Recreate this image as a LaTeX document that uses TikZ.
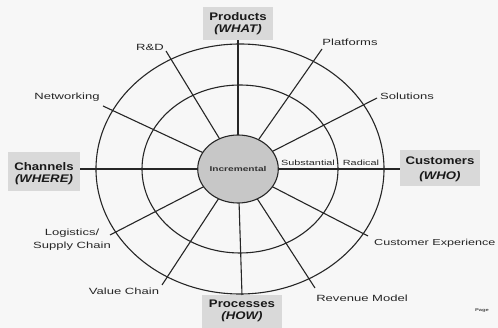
\documentclass[tikz,border=0pt]{standalone}
\usepackage{fontspec}
\setmainfont{Liberation Sans}
\newfontfamily\labfont[FakeStretch=1.45]{Liberation Sans}
\newfontfamily\boxfont[FakeStretch=1.2]{Liberation Sans}
\usetikzlibrary{shapes.geometric}
\begin{document}
\begin{tikzpicture}[x=1pt,y=-1pt,
  wline/.style={line width=1.1pt,black!85},
  dimbox/.style={fill=black!15,draw=none,align=center,font=\boxfont\fontsize{11}{13}\selectfont\bfseries,text=black!90,inner sep=0pt},
  spokelab/.style={font=\labfont\fontsize{9}{11}\selectfont,text=black!85,inner sep=0pt,align=center},
  ringlab/.style={font=\labfont\fontsize{7.5}{9}\selectfont,text=black!85,inner sep=0pt,anchor=base}]
\useasboundingbox[fill=black!3] (0,0) rectangle (498,328);
% rings
\draw[wline] (240,169) ellipse [x radius=144pt, y radius=125pt];
\draw[wline] (240,169) ellipse [x radius=98pt, y radius=84pt];
% dimension boxes
\path[fill=black!15] (202,295) rectangle (282,328);
\node[dimbox,minimum width=70pt,minimum height=33pt] (products) at (238,23.5) {};
\node[dimbox,minimum width=72pt,minimum height=39pt] (channels) at (44,172) {};
\node[dimbox,minimum width=80pt,minimum height=36pt] (customers) at (440,168) {};
\coordinate (processes) at (242,295);
\node[dimbox] (tprod1) at (238,16.5) {Products};
\node[dimbox] (tprod2) at (238,30) {\itshape(WHAT)};
\node[dimbox] (tchan1) at (44,167) {Channels};
\node[dimbox] (tchan2) at (44,180) {\itshape(WHERE)};
\node[dimbox] (tcust1) at (440,161) {Customers};
\node[dimbox] (tcust2) at (440,177) {\itshape(WHO)};
\node[dimbox] (tproc1) at (242,304) {Processes};
\node[dimbox] (tproc2) at (242,317) {\itshape(HOW)};
% centre
\coordinate (c) at (238,169);
\node[ellipse,minimum width=78pt,minimum height=68pt,inner sep=0pt] (inner) at (c) {};
% spoke ends
\coordinate (erd) at (166,51);
\coordinate (enet) at (103,106);
\coordinate (eplat) at (322,49);
\coordinate (esol) at (377,98);
\coordinate (elog) at (110,235);
\coordinate (eval) at (162,285);
\coordinate (ecust) at (368,236);
\coordinate (erev) at (315,288);
\foreach \e in {erd,enet,eplat,esol,elog,eval,ecust,erev} \draw[wline] (inner) -- (\e);
% axes
\draw[wline] (products.south) -- (inner);
\draw[wline] (inner) -- (processes);
\draw[wline] (channels.east |- c) -- (inner);
\draw[wline] (inner) -- (customers.west |- c);
\node[ellipse,minimum width=78pt,minimum height=68pt,inner sep=0pt,fill=black!22,draw=black!85,line width=1.1pt,font=\labfont\fontsize{7}{8}\selectfont\bfseries,text=black!80] (innerf) at (c) {Incremental};
% ring labels
\node[ringlab] (sub) at (308,166) {Substantial};
\node[ringlab] (rad) at (361,166) {Radical};
% spoke labels
\node[spokelab] (lrd) at (150,47) {R\&D};
\node[spokelab] (lnet) at (67,97) {Networking};
\node[spokelab] (lplat) at (350,42) {Platforms};
\node[spokelab] (lsol) at (407,96) {Solutions};
\node[spokelab] (llog) at (72,239.5) {Logistics/\\[2pt]Supply Chain};
\node[spokelab] (lval) at (124,291) {Value Chain};
\node[spokelab,anchor=west,font=\labfont\fontsize{8.7}{11}\selectfont] (lcust) at (374,243) {Customer Experience};
\node[spokelab] (lrev) at (362,298) {Revenue Model};
\node[font=\labfont\fontsize{4}{5}\selectfont\bfseries,text=black!70,inner sep=0pt] (page) at (482,311) {Page};
\end{tikzpicture}
\end{document}
